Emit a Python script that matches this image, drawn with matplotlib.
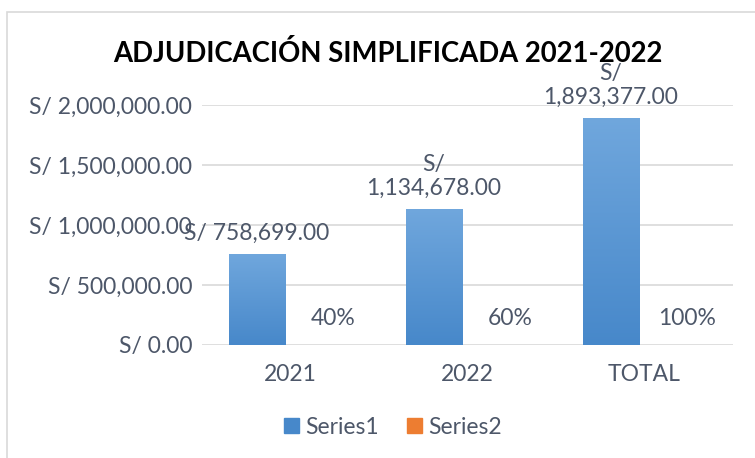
import numpy as np
import matplotlib
matplotlib.use("Agg")
import matplotlib.pyplot as plt
from matplotlib.patches import Rectangle

categories = ["2021", "2022", "TOTAL"]
amounts = [758699.00, 1134678.00, 1893377.00]
shares = [0.40, 0.60, 1.00]
amount_labels = ["S/ 758,699.00", "S/\n1,134,678.00", "S/\n1,893,377.00"]
share_labels = ["40%", "60%", "100%"]
yticks = [0, 500000, 1000000, 1500000, 2000000]

plt.rcParams["font.family"] = ["Lato", "DejaVu Sans"]
txt = "#4d5769"
blue_top, blue_bot = "#70a7dd", "#4788ca"
fs = 16.5

fig = plt.figure(figsize=(7.55, 4.58), dpi=100)
fig.patches.append(Rectangle((7 / 755, -0.1), 1.2, 1 - 12 / 458 + 0.1,
                             transform=fig.transFigure, fill=False,
                             edgecolor="#d9d9d9", lw=1.2))
ax = fig.add_axes([202 / 755, 1 - 345 / 458, 531 / 755, 240 / 458])

x = np.arange(len(categories))
w, off = 0.32, 0.19

# series 1 with vertical gradient
grad = np.linspace(0, 1, 256).reshape(-1, 1)
cmap = matplotlib.colors.LinearSegmentedColormap.from_list("g", [blue_bot, blue_top])
bars = ax.bar(x - off, amounts, w, color="none", zorder=3)
for b in bars:
    x0, y0, bw, bh = b.get_x(), b.get_y(), b.get_width(), b.get_height()
    im = ax.imshow(grad, extent=[x0, x0 + bw, y0, y0 + bh], origin="lower",
                   cmap=cmap, aspect="auto", zorder=3)
    im.set_clip_path(b)
ax.bar(x + off, shares, w, color="#ed7d31", zorder=3)

for xi, v, lab in zip(x, amounts, amount_labels):
    ax.annotate(lab, (xi - off, v), xytext=(0, 7), textcoords="offset points",
                ha="center", va="bottom", fontsize=fs, color=txt,
                linespacing=1.2)
for xi, v, lab in zip(x, shares, share_labels):
    ax.annotate(lab, (xi + off + 0.05, v), xytext=(0, 19), textcoords="offset points",
                ha="center", va="center", fontsize=fs, color=txt)

ax.set_xlim(-0.5, 2.5)
ax.set_ylim(0, 2000000)
ax.set_yticks(yticks)
ax.set_yticklabels(["S/ {:,.2f}".format(t) for t in yticks])
ax.set_xticks(x)
ax.set_xticklabels(categories)
ax.tick_params(length=0, labelsize=fs, labelcolor=txt)
ax.tick_params(axis="x", pad=14)
ax.tick_params(axis="y", pad=7)
ax.grid(axis="y", color="#d9d9d9", lw=1.2, zorder=0)
for s in ax.spines.values():
    s.set_visible(False)

fig.text(388 / 755, 1 - 53 / 458, "ADJUDICACIÓN SIMPLIFICADA 2021-2022",
         ha="center", va="center", fontsize=19.8, fontweight="bold", color="black")

handles = [Rectangle((0, 0), 1, 1, color=blue_bot), Rectangle((0, 0), 1, 1, color="#ed7d31")]
fig.legend(handles, ["Series1", "Series2"], loc="center", bbox_to_anchor=(393 / 755, 1 - 427 / 458),
           ncol=2, frameon=False, fontsize=fs, labelcolor=txt, handlelength=0.65,
           handleheight=0.65, handletextpad=0.3, columnspacing=1.2)

fig.savefig("out.png", dpi=100)
